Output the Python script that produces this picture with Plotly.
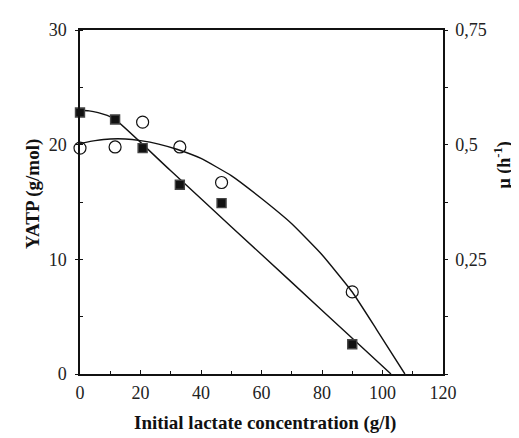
import plotly.graph_objects as go

# Measured data points
conc = [0, 11.6, 20.7, 33, 46.8, 90]
yatp = [22.8, 22.2, 19.7, 16.5, 14.9, 2.6]          # filled squares, left axis (g/mol)
mu = [0.4925, 0.495, 0.549, 0.495, 0.4175, 0.179]   # open circles, right axis (h-1)

# Fitted curves
yatp_fit_x = [0, 3, 6, 9, 11.6, 30, 50, 70, 90, 102.8]
yatp_fit_y = [23.0, 22.95, 22.8, 22.55, 22.2, 17.72, 12.85, 7.99, 3.12, 0]
mu_fit_x = [0, 5, 10, 15, 20, 26, 32, 40, 50, 60, 70, 80, 90, 98, 107.4]
mu_fit_y = [0.5025, 0.50875, 0.5125, 0.5125, 0.50875, 0.50125, 0.49, 0.47,
            0.4325, 0.3825, 0.3275, 0.26, 0.17875, 0.0975, 0]

x_ticks = [0, 20, 40, 60, 80, 100, 120]
y_ticks = [0, 10, 20, 30]
y2_ticks = [0.25, 0.5, 0.75]
y2_labels = ["0,25", "0,5", "0,75"]

FONT = "Liberation Serif"
INK = "#111111"

fig = go.Figure()
fig.add_trace(go.Scatter(x=yatp_fit_x, y=yatp_fit_y, mode="lines",
                         line=dict(color=INK, width=1.4, shape="spline", smoothing=0.6),
                         cliponaxis=False, showlegend=False, hoverinfo="skip"))
fig.add_trace(go.Scatter(x=mu_fit_x, y=mu_fit_y, mode="lines", yaxis="y2",
                         line=dict(color=INK, width=1.4, shape="spline", smoothing=0.4),
                         cliponaxis=False, showlegend=False, hoverinfo="skip"))
fig.add_trace(go.Scatter(x=conc, y=yatp, mode="markers", name="YATP",
                         marker=dict(symbol="square", size=9, color=INK,
                                     line=dict(color="#444", width=1.4)),
                         cliponaxis=False, showlegend=False))
fig.add_trace(go.Scatter(x=conc, y=mu, mode="markers", yaxis="y2", name="μ",
                         marker=dict(symbol="circle-open", size=12, color=INK,
                                     line=dict(color=INK, width=1.2)),
                         cliponaxis=False, showlegend=False))

tickfont = dict(family=FONT, size=18, color="#222")

fig.update_layout(
    width=511, height=430,
    margin=dict(l=72, r=76, t=18, b=64),
    paper_bgcolor="white", plot_bgcolor="white",
    xaxis=dict(range=[0, 120], tickvals=x_ticks, showgrid=False, zeroline=False,
               showline=True, linecolor=INK, linewidth=1.5, mirror=True,
               ticks="inside", ticklen=4, tickcolor=INK, tickfont=tickfont,
               ticklabelstandoff=2,
               minor=dict(dtick=10, ticks="inside", ticklen=3, tickcolor=INK)),
    yaxis=dict(range=[0, 30], tickvals=y_ticks, showgrid=False, zeroline=False,
               showline=True, linecolor=INK, linewidth=1.5,
               ticks="outside", ticklen=3, tickcolor=INK, tickfont=tickfont,
               ticklabelstandoff=5,
               minor=dict(dtick=5, ticks="inside", ticklen=3, tickcolor=INK)),
    yaxis2=dict(range=[0, 0.75], overlaying="y", side="right",
                tickvals=y2_ticks, ticktext=y2_labels, showgrid=False,
                zeroline=False, showline=True, linecolor=INK, linewidth=1.5,
                ticks="outside", ticklen=3, tickcolor=INK, tickfont=tickfont,
                ticklabelstandoff=4,
                minor=dict(dtick=0.125, ticks="outside", ticklen=3, tickcolor=INK)),
    annotations=[
        dict(text="<b>YATP (g/mol)</b>", xref="paper", yref="paper", x=0, y=0.5,
             xanchor="center", yanchor="middle", xshift=-47, yshift=8,
             textangle=-90, showarrow=False,
             font=dict(family=FONT, size=19, color=INK)),
        dict(text="<b>μ (h<sup>-1</sup>)</b>", xref="paper", yref="paper", x=1,
             y=0.606, xanchor="center", yanchor="middle", xshift=60,
             textangle=-90, showarrow=False,
             font=dict(family=FONT, size=18, color=INK)),
        dict(text="<b>Initial lactate concentration (g/l)</b>", xref="paper",
             yref="paper", x=0.511, y=0, xanchor="center", yanchor="middle",
             yshift=-49, showarrow=False,
             font=dict(family=FONT, size=19, color=INK)),
    ],
)

fig.write_html("out.html")
